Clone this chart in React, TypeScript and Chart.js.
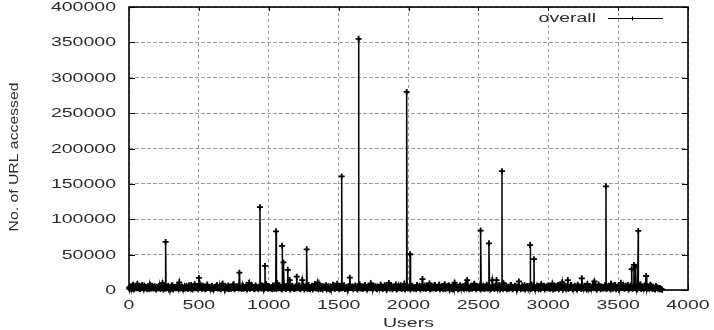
import React, { useEffect, useRef } from 'react';
import { Chart, registerables } from 'chart.js';

Chart.register(...registerables);

// ---- data ----
const xMin = 0;
const xMax = 4000;
const xStep = 500;
const yMin = 0;
const yMax = 400000;
const yStep = 50000;

// background activity (in thousands), users 0, 10, 20 ... 3810
const baselineStep = 10;
const baselineK = [
  3.2, 5.1, 1.8, 7.4, 2.6, 4.0, 8.9, 3.3, 1.2, 5.6, 2.9, 6.3, 4.4, 1.5, 3.8, 7.9, 2.2, 5.0, 3.6, 1.9,
  4.7, 2.4, 6.1, 3.0, 9.6, 1.7, 4.9, 2.8, 5.5, 3.4, 1.6, 6.8, 2.3, 4.2, 3.1, 7.2, 10.8, 2.5, 4.6, 1.4,
  5.3, 3.7, 2.0, 6.6, 4.1, 1.3, 3.9, 8.2, 2.7, 5.8, 17.0, 3.5, 2.1, 6.0, 4.5, 1.8, 7.6, 3.2, 2.6, 5.2,
  1.9, 4.3, 3.0, 6.9, 2.4, 5.7, 1.5, 9.1, 3.6, 4.8, 2.2, 6.4, 3.9, 1.7, 5.4, 8.0, 2.9, 4.1, 3.3, 24.5,
  2.8, 5.9, 1.6, 4.4, 7.3, 3.1, 10.2, 2.5, 6.2, 3.8, 1.4, 5.0, 2.7, 4.6, 3.4, 6.7, 2.1, 4.9, 8.4, 3.0,
  5.5, 2.3, 4.0, 6.5, 1.8, 3.7, 9.8, 2.6, 5.1, 3.2, 7.0, 4.3, 1.9, 6.1, 2.8, 14.0, 3.5, 5.7, 2.0, 4.8,
  18.8, 3.9, 6.3, 2.4, 14.0, 5.2, 3.1, 7.7, 1.7, 4.5, 2.9, 6.0, 3.6, 8.6, 2.2, 10.5, 4.1, 1.5, 5.6, 3.3,
  2.7, 6.8, 4.2, 1.9, 5.0, 3.4, 7.5, 2.1, 4.7, 9.0, 3.0, 5.8, 2.5, 4.4, 6.6, 1.6, 3.8, 5.3, 17.4, 2.8,
  4.9, 3.2, 6.2, 2.0, 5.6, 8.1, 3.7, 1.8, 4.6, 7.1, 2.6, 5.4, 3.5, 9.5, 2.3, 6.0, 4.0, 1.7, 5.1, 3.3,
  7.3, 2.9, 4.5, 6.7, 1.6, 3.9, 10.0, 2.4, 5.5, 3.1, 4.8, 7.8, 2.2, 6.1, 3.6, 1.9, 5.7, 8.7, 3.0, 4.2,
  2.5, 6.4, 3.8, 5.1, 1.8, 4.3, 7.0, 2.7, 5.9, 3.4, 15.5, 4.6, 2.0, 6.5, 3.2, 9.3, 1.7, 5.0, 3.9, 6.9,
  2.6, 4.1, 7.6, 3.0, 5.4, 1.9, 8.3, 3.7, 2.3, 6.2, 4.5, 1.5, 5.8, 10.4, 3.3, 4.9, 2.1, 6.7, 3.6, 5.2,
  2.8, 7.2, 14.0, 4.0, 1.7, 6.0, 3.4, 8.8, 2.4, 5.5, 3.1, 4.7, 6.3, 2.0, 5.0, 3.8, 7.4, 2.6, 4.4, 1.8,
  14.0, 3.5, 5.9, 14.0, 2.2, 6.6, 3.9, 4.8, 9.7, 2.9, 5.3, 3.2, 1.6, 7.1, 4.2, 2.5, 6.0, 3.7, 5.1, 12.0,
  3.0, 4.6, 2.1, 6.8, 3.6, 5.6, 1.9, 4.0, 7.9, 3.3, 5.0, 2.4, 6.4, 1.8, 4.3, 8.2, 3.1, 5.7, 2.7, 4.9,
  6.2, 2.0, 4.5, 9.2, 3.4, 1.7, 5.3, 7.0, 2.6, 4.1, 11.0, 3.8, 5.8, 2.3, 14.0, 3.0, 6.9, 4.7, 2.2, 5.5,
  3.6, 7.4, 2.9, 4.8, 16.5, 2.4, 6.1, 3.9, 8.5, 1.9, 5.2, 3.3, 6.7, 12.0, 2.8, 4.6, 7.8, 3.1, 5.0, 2.5,
  4.3, 6.5, 2.1, 5.7, 3.5, 9.0, 1.8, 4.9, 6.8, 3.0, 5.4, 2.6, 10.2, 3.7, 6.0, 2.3, 4.5, 7.2, 3.2, 5.9,
  2.7, 4.4, 6.6, 1.9, 5.1, 3.6, 8.0, 2.4, 4.8, 6.3, 19.8, 5.5, 2.0, 7.5, 3.9, 4.6, 1.6, 5.8, 3.4, 2.2,
  3.0, 1.5,
];

// background activity (in thousands), users 5, 15, 25 ... 3815
const baselineHalfK = [
  1.1, 3.9, 6.2, 0.8, 4.5, 2.3, 5.7, 1.4, 3.0, 7.1, 0.9, 4.1, 2.6, 5.3, 1.2, 3.7, 6.0, 2.0, 4.8, 0.7,
  2.9, 5.5, 1.3, 3.6, 0.6, 6.4, 2.1, 4.3, 1.0, 3.2, 5.9, 0.8, 4.6, 2.4, 6.7, 1.5, 3.3, 5.1, 0.9, 3.8,
  2.2, 4.9, 1.6, 3.1, 7.0, 0.7, 5.2, 2.5, 4.0, 1.1, 3.5, 6.3, 1.8, 4.4, 0.9, 5.6, 2.7, 3.9, 1.3, 6.1,
  0.8, 3.4, 5.8, 2.0, 4.2, 1.2, 6.6, 2.8, 0.6, 4.7, 3.0, 1.5, 5.0, 2.3, 7.3, 1.0, 3.6, 5.4, 2.1, 4.0,
  1.4, 6.0, 2.6, 3.8, 0.7, 5.1, 1.9, 4.5, 2.9, 0.9, 6.5, 3.3, 1.2, 4.8, 2.0, 5.7, 0.8, 3.4, 6.2, 1.6,
  4.1, 2.4, 0.9, 5.3, 3.0, 1.3, 4.6, 6.8, 2.2, 0.7, 3.9, 5.5, 1.7, 4.3, 2.8, 0.6, 5.9, 3.1, 1.4, 4.7,
  2.5, 6.3, 1.0, 3.7, 5.0, 0.8, 4.2, 2.1, 6.9, 1.5, 3.4, 0.9, 5.6, 2.7, 4.0, 1.2, 6.1, 3.2, 0.7, 4.9,
  3.3, 1.1, 5.4, 2.6, 0.8, 4.4, 6.6, 1.8, 3.0, 5.2, 0.9, 4.1, 2.3, 6.0, 1.4, 3.8, 0.6, 5.7, 2.9, 4.5,
  1.2, 5.0, 3.5, 0.7, 6.4, 2.2, 4.3, 1.6, 5.8, 3.1, 0.8, 4.9, 2.5, 7.0, 1.3, 3.6, 5.3, 0.9, 4.0, 2.7,
  6.2, 1.5, 3.2, 5.6, 0.7, 4.6, 2.0, 6.5, 1.1, 3.9, 5.1, 0.8, 4.2, 2.6, 6.8, 1.7, 3.3, 0.6, 5.5, 2.4,
  4.4, 0.9, 6.0, 2.8, 3.7, 1.2, 5.2, 3.0, 0.7, 4.8, 2.1, 6.3, 1.6, 3.5, 5.7, 0.8, 4.1, 2.5, 6.6, 1.3,
  3.8, 5.4, 0.9, 4.3, 2.2, 6.1, 1.4, 3.2, 5.9, 0.7, 4.7, 2.9, 1.1, 6.4, 3.4, 0.8, 5.0, 2.3, 4.5, 1.7,
  6.7, 2.6, 4.0, 0.9, 5.3, 1.8, 3.6, 6.2, 1.0, 4.4, 2.7, 0.6, 5.8, 3.1, 1.5, 4.9, 2.2, 6.0, 0.8, 3.7,
  5.1, 1.3, 4.2, 2.5, 6.5, 0.7, 3.9, 1.9, 5.5, 3.0, 0.9, 4.6, 2.4, 6.9, 1.2, 3.5, 5.2, 0.8, 4.1, 2.8,
  1.6, 6.3, 3.3, 0.7, 4.8, 2.1, 5.7, 1.4, 3.8, 6.6, 0.9, 4.3, 2.6, 5.0, 1.1, 3.2, 6.1, 0.8, 4.5, 2.3,
  5.9, 1.7, 3.6, 0.6, 5.4, 2.9, 4.0, 1.2, 6.4, 3.1, 0.8, 4.7, 2.0, 5.6, 1.5, 3.9, 6.8, 0.9, 4.2, 2.5,
  0.7, 5.2, 3.4, 1.3, 6.0, 2.2, 4.6, 0.8, 3.7, 5.8, 1.6, 4.1, 2.7, 6.5, 1.0, 3.3, 5.0, 0.9, 4.4, 2.1,
  6.2, 1.4, 3.8, 5.5, 0.7, 4.9, 2.4, 6.7, 1.2, 3.5, 0.8, 5.3, 2.9, 4.2, 1.7, 6.1, 3.0, 0.6, 4.7, 2.6,
  1.9, 5.6, 3.2, 0.8, 4.3, 6.4, 1.5, 3.9, 2.2, 5.1, 0.9, 4.6, 2.8, 6.0, 1.3, 3.4, 0.7, 4.0, 2.1, 1.2,
  0.9, 0.5,
];

// heavy users (spikes)
const spikeUsers = [262, 937, 973, 1052, 1095, 1105, 1136, 1271, 1522, 1643, 1987, 2011, 2516, 2576, 2669, 2870, 2898, 3413, 3597, 3613, 3625, 3644];
const spikeValues = [68000, 117000, 34000, 83000, 62500, 39000, 28500, 57500, 160500, 355000, 280000, 50500, 84000, 66000, 168000, 63500, 43500, 146500, 29500, 35500, 33000, 83500];

const seriesLabel = 'overall';
const xTitle = 'Users';
const yTitle = 'No. of URL accessed';

function buildPoints() {
  const pts = baselineK.map((v, i) => ({ x: i * baselineStep, y: v * 1000 }));
  baselineHalfK.forEach((v, i) => pts.push({ x: i * baselineStep + baselineStep / 2, y: v * 1000 }));
  spikeUsers.forEach((u, i) => pts.push({ x: u, y: spikeValues[i] }));
  pts.sort((a, b) => a.x - b.x);
  return pts;
}

const FONT = '13px "Liberation Sans", Arial, Helvetica, sans-serif';
const SX = 1.5; // horizontal stretch of the reference text

const decor = {
  id: 'decor',
  afterDraw(chart: any) {
    const { ctx, chartArea: a } = chart;
    const xs = chart.scales.x;
    const ys = chart.scales.y;
    ctx.save();
    ctx.setLineDash([]);
    // inner tick marks
    ctx.strokeStyle = '#000';
    ctx.lineWidth = 1;
    xs.ticks.forEach((t: any) => {
      const px = Math.round(xs.getPixelForValue(t.value)) + 0.5;
      ctx.beginPath();
      ctx.moveTo(px, a.bottom);
      ctx.lineTo(px, a.bottom - 4);
      ctx.moveTo(px, a.top);
      ctx.lineTo(px, a.top + 4);
      ctx.stroke();
    });
    ys.ticks.forEach((t: any) => {
      const py = Math.round(ys.getPixelForValue(t.value)) + 0.5;
      ctx.beginPath();
      ctx.moveTo(a.left, py);
      ctx.lineTo(a.left + 6, py);
      ctx.moveTo(a.right, py);
      ctx.lineTo(a.right - 6, py);
      ctx.stroke();
    });
    // frame
    ctx.lineWidth = 1.6;
    ctx.strokeRect(a.left, a.top, a.right - a.left, a.bottom - a.top);

    // tick labels
    ctx.fillStyle = '#2a2a2a';
    ctx.font = FONT;
    xs.ticks.forEach((t: any) => {
      const px = xs.getPixelForValue(t.value);
      ctx.save();
      ctx.translate(px, a.bottom + 19);
      ctx.scale(SX, 1);
      ctx.textAlign = 'center';
      ctx.textBaseline = 'alphabetic';
      ctx.fillText(String(t.value), 0, 0);
      ctx.restore();
    });
    ys.ticks.forEach((t: any) => {
      const py = ys.getPixelForValue(t.value);
      ctx.save();
      ctx.translate(a.left - 13, py + 0.5);
      ctx.scale(SX, 1);
      ctx.textAlign = 'right';
      ctx.textBaseline = 'middle';
      ctx.fillText(String(t.value), 0, 0);
      ctx.restore();
    });
    // x title
    ctx.save();
    ctx.translate((a.left + a.right) / 2, a.bottom + 37);
    ctx.scale(SX, 1);
    ctx.textAlign = 'center';
    ctx.textBaseline = 'alphabetic';
    ctx.fillText(xTitle, 0, 0);
    ctx.restore();
    // y title
    ctx.save();
    ctx.translate(18, a.bottom - 133);
    ctx.rotate(-Math.PI / 2);
    ctx.scale(1.05, 0.85);
    ctx.font = '15px "Liberation Sans", Arial, Helvetica, sans-serif';
    ctx.textAlign = 'center';
    ctx.textBaseline = 'alphabetic';
    ctx.fillText(yTitle, 0, 0);
    ctx.restore();
    // legend
    ctx.save();
    ctx.translate(a.right - 92, a.top + 15);
    ctx.scale(SX, 1);
    ctx.textAlign = 'right';
    ctx.textBaseline = 'alphabetic';
    ctx.fillText(seriesLabel, 0, 0);
    ctx.restore();
    ctx.strokeStyle = '#000';
    ctx.lineWidth = 1;
    const ly = a.top + 11.5;
    ctx.beginPath();
    ctx.moveTo(a.right - 80, ly);
    ctx.lineTo(a.right - 25, ly);
    ctx.moveTo(a.right - 55.5, ly - 2);
    ctx.lineTo(a.right - 55.5, ly + 2);
    ctx.moveTo(a.right - 58, ly);
    ctx.lineTo(a.right - 53, ly);
    ctx.stroke();
    ctx.restore();
  },
};

export default function App() {
  const ref = useRef<HTMLCanvasElement>(null);
  useEffect(() => {
    const canvas = ref.current;
    if (!canvas) return;
    const chart = new Chart(canvas, {
      type: 'line',
      data: {
        datasets: [
          {
            label: seriesLabel,
            data: buildPoints(),
            borderColor: '#000',
            borderWidth: 1.5,
            pointStyle: 'cross',
            pointRadius: 3,
            pointBorderWidth: 1.8,
            pointBorderColor: '#000',
            pointBackgroundColor: '#000',
            tension: 0,
            fill: false,
            clip: false,
          } as any,
        ],
      },
      options: {
        animation: false,
        responsive: false,
        maintainAspectRatio: false,
        parsing: true,
        layout: { padding: { left: 0, right: 26, top: 7, bottom: 0 } },
        plugins: {
          legend: { display: false },
          tooltip: { enabled: false },
        },
        scales: {
          x: {
            type: 'linear',
            min: xMin,
            max: xMax,
            ticks: { stepSize: xStep, display: false },
            grid: { color: '#9a9a9a', lineWidth: 1, drawTicks: false },
            border: { display: false, dash: [3, 3] },
            afterFit: (s: any) => {
              s.height = 40;
            },
          },
          y: {
            type: 'linear',
            min: yMin,
            max: yMax,
            ticks: { stepSize: yStep, display: false },
            grid: { color: '#9a9a9a', lineWidth: 1, drawTicks: false },
            border: { display: false, dash: [4, 2] },
            afterFit: (s: any) => {
              s.width = 129;
            },
          },
        } as any,
      },
      plugins: [decor],
    });
    return () => chart.destroy();
  }, []);
  return (
    <div style={{ position: 'fixed', left: 0, top: 0, width: 714, height: 330, background: '#fff' }}>
      <canvas ref={ref} width={714} height={330} style={{ display: 'block' }} />
    </div>
  );
}
